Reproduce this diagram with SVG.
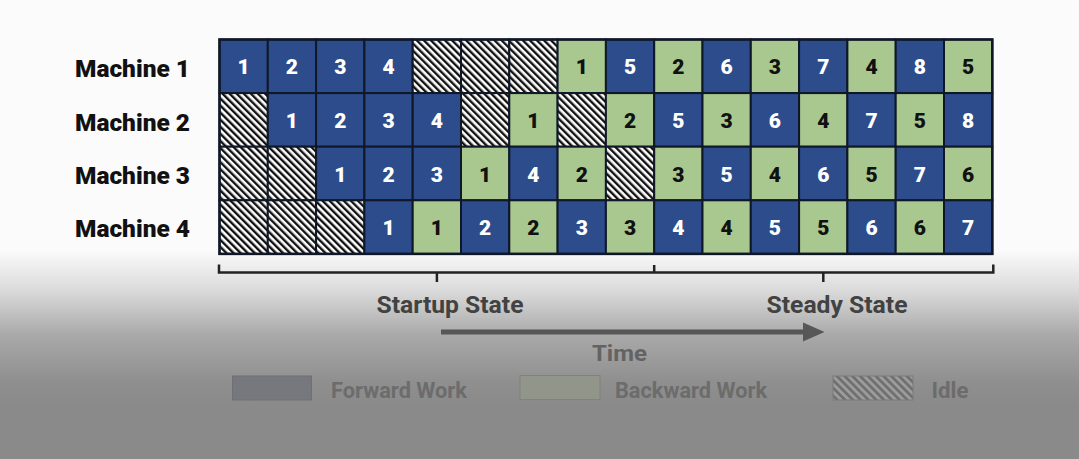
<svg xmlns="http://www.w3.org/2000/svg" width="1079" height="459" viewBox="0 0 1079 459">
<defs>
<linearGradient id="bg" gradientUnits="userSpaceOnUse" x1="0" y1="250" x2="0" y2="405">
<stop offset="0" stop-color="#fbfbfb"/>
<stop offset="0.25" stop-color="#dcdcdc"/>
<stop offset="0.55" stop-color="#a9a9a9"/>
<stop offset="0.85" stop-color="#8f8f8f"/>
<stop offset="1" stop-color="#8a8a8a"/>
</linearGradient>
<pattern id="hatch" patternUnits="userSpaceOnUse" width="5" height="5" patternTransform="rotate(-45)">
<rect width="5" height="5" fill="#ffffff"/>
<rect width="2.4" height="5" fill="#111111"/>
</pattern>
<pattern id="hatchL" patternUnits="userSpaceOnUse" width="5.5" height="5.5" patternTransform="rotate(-45)">
<rect width="5.5" height="5.5" fill="#9c9c9c"/>
<rect width="2.6" height="5.5" fill="#6e6e6e"/>
</pattern>
</defs>
<style>
.f{fill:#2c4c8c;stroke:#101828;stroke-width:2}
.b{fill:#a9c88f;stroke:#101828;stroke-width:2}
.i{fill:url(#hatch);stroke:#101828;stroke-width:2}
text{font-family:Roboto,"Liberation Sans",sans-serif;font-weight:700}
.nf{fill:#ffffff;font-size:21px;font-weight:900;text-anchor:middle}
.nb{fill:#111111;font-size:21px;font-weight:900;text-anchor:middle}
.lbl{fill:#111111;font-size:23px;font-weight:900}
.st{fill:#424242;font-size:23px;text-anchor:middle}
.lg{fill:#6c6c6c;font-size:22px;text-anchor:middle}
.br{fill:none;stroke:#222222;stroke-width:2.5}
</style>
<rect width="1079" height="459" fill="url(#bg)"/>

<g id="labels">
<text class="lbl" x="75" y="77" textLength="115" lengthAdjust="spacingAndGlyphs">Machine 1</text>
<text class="lbl" x="75" y="130.5" textLength="115" lengthAdjust="spacingAndGlyphs">Machine 2</text>
<text class="lbl" x="75" y="184" textLength="115" lengthAdjust="spacingAndGlyphs">Machine 3</text>
<text class="lbl" x="75" y="237" textLength="115" lengthAdjust="spacingAndGlyphs">Machine 4</text>
</g>

<g id="machine1">
<g id="m1c1"><rect class="f" x="219.5" y="39.5" width="48.3" height="53.6"/><text class="nf" x="243.65" y="74.3">1</text></g>
<g id="m1c2"><rect class="f" x="267.8" y="39.5" width="48.3" height="53.6"/><text class="nf" x="291.95" y="74.3">2</text></g>
<g id="m1c3"><rect class="f" x="316.1" y="39.5" width="48.3" height="53.6"/><text class="nf" x="340.25" y="74.3">3</text></g>
<g id="m1c4"><rect class="f" x="364.4" y="39.5" width="48.3" height="53.6"/><text class="nf" x="388.55" y="74.3">4</text></g>
<g id="m1c5"><rect class="i" x="412.7" y="39.5" width="48.3" height="53.6"/></g>
<g id="m1c6"><rect class="i" x="461.0" y="39.5" width="48.3" height="53.6"/></g>
<g id="m1c7"><rect class="i" x="509.3" y="39.5" width="48.3" height="53.6"/></g>
<g id="m1c8"><rect class="b" x="557.6" y="39.5" width="48.3" height="53.6"/><text class="nb" x="581.75" y="74.3">1</text></g>
<g id="m1c9"><rect class="f" x="605.9" y="39.5" width="48.3" height="53.6"/><text class="nf" x="630.05" y="74.3">5</text></g>
<g id="m1c10"><rect class="b" x="654.2" y="39.5" width="48.3" height="53.6"/><text class="nb" x="678.35" y="74.3">2</text></g>
<g id="m1c11"><rect class="f" x="702.5" y="39.5" width="48.3" height="53.6"/><text class="nf" x="726.65" y="74.3">6</text></g>
<g id="m1c12"><rect class="b" x="750.8" y="39.5" width="48.3" height="53.6"/><text class="nb" x="774.95" y="74.3">3</text></g>
<g id="m1c13"><rect class="f" x="799.1" y="39.5" width="48.3" height="53.6"/><text class="nf" x="823.25" y="74.3">7</text></g>
<g id="m1c14"><rect class="b" x="847.4" y="39.5" width="48.3" height="53.6"/><text class="nb" x="871.55" y="74.3">4</text></g>
<g id="m1c15"><rect class="f" x="895.7" y="39.5" width="48.3" height="53.6"/><text class="nf" x="919.85" y="74.3">8</text></g>
<g id="m1c16"><rect class="b" x="944.0" y="39.5" width="48.3" height="53.6"/><text class="nb" x="968.15" y="74.3">5</text></g>
</g>

<g id="machine2">
<g id="m2c1"><rect class="i" x="219.5" y="93.1" width="48.3" height="53.6"/></g>
<g id="m2c2"><rect class="f" x="267.8" y="93.1" width="48.3" height="53.6"/><text class="nf" x="291.95" y="127.9">1</text></g>
<g id="m2c3"><rect class="f" x="316.1" y="93.1" width="48.3" height="53.6"/><text class="nf" x="340.25" y="127.9">2</text></g>
<g id="m2c4"><rect class="f" x="364.4" y="93.1" width="48.3" height="53.6"/><text class="nf" x="388.55" y="127.9">3</text></g>
<g id="m2c5"><rect class="f" x="412.7" y="93.1" width="48.3" height="53.6"/><text class="nf" x="436.85" y="127.9">4</text></g>
<g id="m2c6"><rect class="i" x="461.0" y="93.1" width="48.3" height="53.6"/></g>
<g id="m2c7"><rect class="b" x="509.3" y="93.1" width="48.3" height="53.6"/><text class="nb" x="533.45" y="127.9">1</text></g>
<g id="m2c8"><rect class="i" x="557.6" y="93.1" width="48.3" height="53.6"/></g>
<g id="m2c9"><rect class="b" x="605.9" y="93.1" width="48.3" height="53.6"/><text class="nb" x="630.05" y="127.9">2</text></g>
<g id="m2c10"><rect class="f" x="654.2" y="93.1" width="48.3" height="53.6"/><text class="nf" x="678.35" y="127.9">5</text></g>
<g id="m2c11"><rect class="b" x="702.5" y="93.1" width="48.3" height="53.6"/><text class="nb" x="726.65" y="127.9">3</text></g>
<g id="m2c12"><rect class="f" x="750.8" y="93.1" width="48.3" height="53.6"/><text class="nf" x="774.95" y="127.9">6</text></g>
<g id="m2c13"><rect class="b" x="799.1" y="93.1" width="48.3" height="53.6"/><text class="nb" x="823.25" y="127.9">4</text></g>
<g id="m2c14"><rect class="f" x="847.4" y="93.1" width="48.3" height="53.6"/><text class="nf" x="871.55" y="127.9">7</text></g>
<g id="m2c15"><rect class="b" x="895.7" y="93.1" width="48.3" height="53.6"/><text class="nb" x="919.85" y="127.9">5</text></g>
<g id="m2c16"><rect class="f" x="944.0" y="93.1" width="48.3" height="53.6"/><text class="nf" x="968.15" y="127.9">8</text></g>
</g>

<g id="machine3">
<g id="m3c1"><rect class="i" x="219.5" y="146.7" width="48.3" height="53.6"/></g>
<g id="m3c2"><rect class="i" x="267.8" y="146.7" width="48.3" height="53.6"/></g>
<g id="m3c3"><rect class="f" x="316.1" y="146.7" width="48.3" height="53.6"/><text class="nf" x="340.25" y="181.5">1</text></g>
<g id="m3c4"><rect class="f" x="364.4" y="146.7" width="48.3" height="53.6"/><text class="nf" x="388.55" y="181.5">2</text></g>
<g id="m3c5"><rect class="f" x="412.7" y="146.7" width="48.3" height="53.6"/><text class="nf" x="436.85" y="181.5">3</text></g>
<g id="m3c6"><rect class="b" x="461.0" y="146.7" width="48.3" height="53.6"/><text class="nb" x="485.15" y="181.5">1</text></g>
<g id="m3c7"><rect class="f" x="509.3" y="146.7" width="48.3" height="53.6"/><text class="nf" x="533.45" y="181.5">4</text></g>
<g id="m3c8"><rect class="b" x="557.6" y="146.7" width="48.3" height="53.6"/><text class="nb" x="581.75" y="181.5">2</text></g>
<g id="m3c9"><rect class="i" x="605.9" y="146.7" width="48.3" height="53.6"/></g>
<g id="m3c10"><rect class="b" x="654.2" y="146.7" width="48.3" height="53.6"/><text class="nb" x="678.35" y="181.5">3</text></g>
<g id="m3c11"><rect class="f" x="702.5" y="146.7" width="48.3" height="53.6"/><text class="nf" x="726.65" y="181.5">5</text></g>
<g id="m3c12"><rect class="b" x="750.8" y="146.7" width="48.3" height="53.6"/><text class="nb" x="774.95" y="181.5">4</text></g>
<g id="m3c13"><rect class="f" x="799.1" y="146.7" width="48.3" height="53.6"/><text class="nf" x="823.25" y="181.5">6</text></g>
<g id="m3c14"><rect class="b" x="847.4" y="146.7" width="48.3" height="53.6"/><text class="nb" x="871.55" y="181.5">5</text></g>
<g id="m3c15"><rect class="f" x="895.7" y="146.7" width="48.3" height="53.6"/><text class="nf" x="919.85" y="181.5">7</text></g>
<g id="m3c16"><rect class="b" x="944.0" y="146.7" width="48.3" height="53.6"/><text class="nb" x="968.15" y="181.5">6</text></g>
</g>

<g id="machine4">
<g id="m4c1"><rect class="i" x="219.5" y="200.3" width="48.3" height="53.6"/></g>
<g id="m4c2"><rect class="i" x="267.8" y="200.3" width="48.3" height="53.6"/></g>
<g id="m4c3"><rect class="i" x="316.1" y="200.3" width="48.3" height="53.6"/></g>
<g id="m4c4"><rect class="f" x="364.4" y="200.3" width="48.3" height="53.6"/><text class="nf" x="388.55" y="235.1">1</text></g>
<g id="m4c5"><rect class="b" x="412.7" y="200.3" width="48.3" height="53.6"/><text class="nb" x="436.85" y="235.1">1</text></g>
<g id="m4c6"><rect class="f" x="461.0" y="200.3" width="48.3" height="53.6"/><text class="nf" x="485.15" y="235.1">2</text></g>
<g id="m4c7"><rect class="b" x="509.3" y="200.3" width="48.3" height="53.6"/><text class="nb" x="533.45" y="235.1">2</text></g>
<g id="m4c8"><rect class="f" x="557.6" y="200.3" width="48.3" height="53.6"/><text class="nf" x="581.75" y="235.1">3</text></g>
<g id="m4c9"><rect class="b" x="605.9" y="200.3" width="48.3" height="53.6"/><text class="nb" x="630.05" y="235.1">3</text></g>
<g id="m4c10"><rect class="f" x="654.2" y="200.3" width="48.3" height="53.6"/><text class="nf" x="678.35" y="235.1">4</text></g>
<g id="m4c11"><rect class="b" x="702.5" y="200.3" width="48.3" height="53.6"/><text class="nb" x="726.65" y="235.1">4</text></g>
<g id="m4c12"><rect class="f" x="750.8" y="200.3" width="48.3" height="53.6"/><text class="nf" x="774.95" y="235.1">5</text></g>
<g id="m4c13"><rect class="b" x="799.1" y="200.3" width="48.3" height="53.6"/><text class="nb" x="823.25" y="235.1">5</text></g>
<g id="m4c14"><rect class="f" x="847.4" y="200.3" width="48.3" height="53.6"/><text class="nf" x="871.55" y="235.1">6</text></g>
<g id="m4c15"><rect class="b" x="895.7" y="200.3" width="48.3" height="53.6"/><text class="nb" x="919.85" y="235.1">6</text></g>
<g id="m4c16"><rect class="f" x="944.0" y="200.3" width="48.3" height="53.6"/><text class="nf" x="968.15" y="235.1">7</text></g>
</g>

<rect x="219.5" y="39.5" width="772.8" height="214.4" fill="none" stroke="#101828" stroke-width="2.5"/>

<g id="connectors">
<path class="br" d="M219,264.5 V272.5 H993.3 V264.5 M654.2,272.5 V265 M436.9,272.5 V282 M823.3,272.5 V282"/>
<line x1="441" y1="332" x2="806" y2="332" stroke="#575757" stroke-width="5"/>
<polygon points="803,322.5 824.5,332 803,341.5" fill="#575757"/>
</g>

<g id="states">
<text class="st" x="450" y="313" textLength="147" lengthAdjust="spacingAndGlyphs">Startup State</text>
<text class="st" x="837" y="313" textLength="141" lengthAdjust="spacingAndGlyphs">Steady State</text>
<text class="lg" x="619.5" y="361" style="fill:#636363" textLength="55" lengthAdjust="spacingAndGlyphs">Time</text>
</g>

<g id="legend">
<g id="lg-forward"><rect x="232.5" y="376" width="79" height="24" fill="#76787e" stroke="#6e7076" stroke-width="1"/><text class="lg" x="399" y="398" textLength="136" lengthAdjust="spacingAndGlyphs">Forward Work</text></g>
<g id="lg-backward"><rect x="520" y="375.5" width="80" height="24" fill="#91958a" stroke="#80827c" stroke-width="1"/><text class="lg" x="691" y="398" textLength="152" lengthAdjust="spacingAndGlyphs">Backward Work</text></g>
<g id="lg-idle"><rect x="833" y="376" width="80" height="24" fill="url(#hatchL)" stroke="#7a7a7a" stroke-width="1"/><text class="lg" x="950" y="398" textLength="37" lengthAdjust="spacingAndGlyphs">Idle</text></g>
</g>
</svg>
